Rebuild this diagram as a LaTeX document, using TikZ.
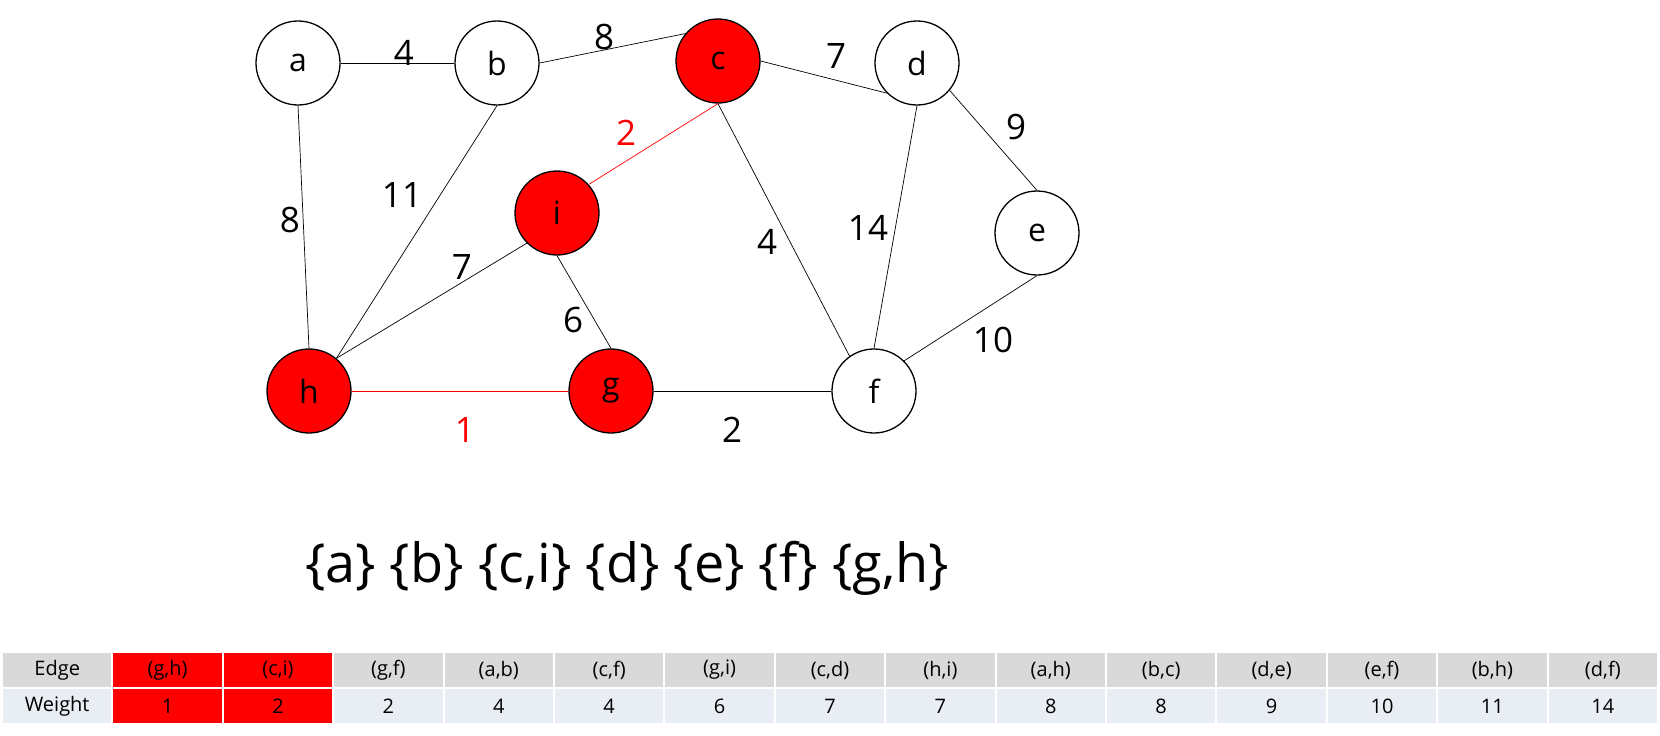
\documentclass[tikz,border=0pt]{standalone}
\usepackage{fontspec}
\setmainfont{Open Sans}
\usetikzlibrary{positioning}
\definecolor{mstred}{HTML}{FF0000}
\definecolor{hdrgray}{HTML}{D9D9D9}
\definecolor{rowblue}{HTML}{E9EDF4}

\begin{document}
\begin{tikzpicture}[x=1pt, y=-1pt,
  vtx/.style={circle, draw, line width=1.3pt, minimum size=84pt, inner sep=0pt,
    font=\fontsize{32}{36}\selectfont},
  vred/.style={vtx, fill=mstred},
  wlbl/.style={inner sep=0pt, font=\fontsize{35}{40}\selectfont},
  edg/.style={line width=0.7pt},
  tree/.style={edg, draw=mstred},
  cell/.style={minimum width=108.4pt, minimum height=34pt, inner sep=0pt,
    font=\fontsize{20}{24}\selectfont}
]
\useasboundingbox (0,0) rectangle (1660,736);

% vertices
\node[vtx]  (a) at (298,63)   {a};
\node[vtx]  (b) at (497,63)   {b};
\node[vred] (c) at (718,61)   {c};
\node[vtx]  (d) at (917,63)   {d};
\node[vtx]  (e) at (1037,233) {e};
\node[vred] (i) at (557,213)  {i};
\node[vred] (h) at (309,391)  {h};
\node[vred] (g) at (611,391)  {g};
\node[vtx]  (f) at (874,391)  {f};

% edges
\foreach \u/\v in {a.east/b.west, b.east/c.140, c.east/d.225, a.south/h.north,
    b.south/h.50, c.south/f.125, d.320/e.north, d.south/f.north, e.south/f.45,
    i.225/h.50, i.south/g.north, g.east/f.west}
  \draw[edg] (\u) -- (\v);
\draw[tree] (c.south) -- (i.42);
\draw[tree] (h.east) -- (g.west);

% weights
\node[wlbl] (lab) at (404,53)  {4};
\node[wlbl] (lbc) at (604,37)  {8};
\node[wlbl] (lcd) at (836,56)  {7};
\node[wlbl] (lde) at (1016,127) {9};
\node[wlbl, text=mstred] (lci) at (626,133) {2};
\node[wlbl] (lbh) at (402,195) {11};
\node[wlbl] (lah) at (290,220) {8};
\node[wlbl] (lcf) at (767,242) {4};
\node[wlbl] (ldf) at (868,228) {14};
\node[wlbl] (lhi) at (462,267) {7};
\node[wlbl] (lgi) at (573,320) {6};
\node[wlbl] (lef) at (993,340) {10};
\node[wlbl, text=mstred] (lhg) at (465,430) {1};
\node[wlbl] (lgf) at (732,430) {2};

% current sets
\node[font=\fontsize{54}{60}\selectfont] (sets) at (627,568)
  {\{a\} \{b\} \{c,i\} \{d\} \{e\} \{f\} \{g,h\}};

% sorted edge table
\node[cell, fill=hdrgray] (hdE) at (57.2,670) {Edge};
\node[cell, fill=rowblue] (hdW) at (57.2,706) {Weight};
\foreach \ed/\wt [count=\k] in {{(g,h)}/1, {(c,i)}/2, {(g,f)}/2, {(a,b)}/4,
    {(c,f)}/4, {(g,i)}/6, {(c,d)}/7, {(h,i)}/7, {(a,h)}/8, {(b,c)}/8,
    {(d,e)}/9, {(e,f)}/10, {(b,h)}/11, {(d,f)}/14} {
  \ifnum\k<3 \def\hc{mstred}\def\dc{mstred}\else\def\hc{hdrgray}\def\dc{rowblue}\fi
  \node[cell, fill=\hc] (e\k) at (57.2+110.4*\k,670) {\ed};
  \node[cell, fill=\dc] (w\k) at (57.2+110.4*\k,706) {\wt};
}
\end{tikzpicture}
\end{document}
